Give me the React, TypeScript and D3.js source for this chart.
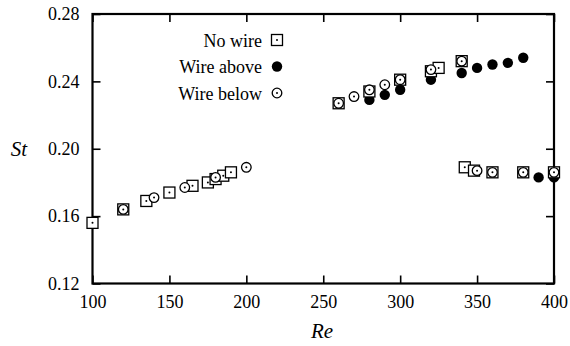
import React, { useEffect, useRef } from 'react'
import { select, scaleLinear, axisBottom, axisLeft, axisTop, axisRight } from 'd3'

const noWireRe = [100, 120, 135, 150, 165, 175, 180, 185, 190, 260, 280, 300, 320, 325, 340, 342, 348, 360, 380, 400]
const noWireSt = [0.156, 0.164, 0.169, 0.174, 0.178, 0.180, 0.182, 0.184, 0.186, 0.227, 0.234, 0.241, 0.246, 0.248, 0.252, 0.189, 0.187, 0.186, 0.186, 0.186]

const wireAboveRe = [280, 290, 300, 320, 340, 350, 360, 370, 380, 390, 400]
const wireAboveSt = [0.229, 0.232, 0.235, 0.241, 0.245, 0.248, 0.250, 0.251, 0.254, 0.183, 0.183]

const wireBelowRe = [120, 140, 160, 180, 200, 260, 270, 280, 290, 300, 320, 340, 350, 360, 380, 400]
const wireBelowSt = [0.164, 0.171, 0.177, 0.183, 0.189, 0.227, 0.231, 0.235, 0.238, 0.241, 0.247, 0.252, 0.187, 0.186, 0.186, 0.186]

const xTicks = [100, 150, 200, 250, 300, 350, 400]
const yTicks = [0.12, 0.16, 0.20, 0.24, 0.28]
const legendLabels = ['No wire', 'Wire above', 'Wire below']

const FONT = "'Liberation Serif', 'DejaVu Serif', 'Times New Roman', serif"

const App = () => {
    const svgRef = useRef(null)

    useEffect(() => {
        const svg = select(svgRef.current)
        svg.selectAll('*').remove()

        const x = scaleLinear().domain([100, 400]).range([92.5, 554])
        const y = scaleLinear().domain([0.12, 0.28]).range([283.5, 14])

        // axes, ticks pointing inward on all four sides
        const styleAxis = (g) => {
            g.attr('font-family', null)
            g.select('.domain').remove()
            g.selectAll('line').attr('stroke', '#000').attr('stroke-width', 1.6)
            g.selectAll('text').style('font-family', FONT).style('font-size', '18px').attr('fill', '#000')
        }
        svg.append('g')
            .attr('transform', `translate(0,${y(0.12)})`)
            .call(axisBottom(x).tickValues(xTicks).tickSizeInner(-8).tickSizeOuter(0).tickPadding(12).tickFormat(d => String(d)))
            .call(styleAxis)
        svg.append('g')
            .attr('transform', `translate(0,${y(0.28)})`)
            .call(axisTop(x).tickValues(xTicks).tickSizeInner(-8).tickSizeOuter(0).tickFormat(() => ''))
            .call(styleAxis)
        svg.append('g')
            .attr('transform', `translate(${x(100)},0)`)
            .call(axisLeft(y).tickValues(yTicks).tickSizeInner(-8).tickSizeOuter(0).tickPadding(13).tickFormat(d => d.toFixed(2)))
            .call(styleAxis)
        svg.append('g')
            .attr('transform', `translate(${x(400)},0)`)
            .call(axisRight(y).tickValues(yTicks).tickSizeInner(-8).tickSizeOuter(0).tickFormat(() => ''))
            .call(styleAxis)

        svg.append('rect')
            .attr('x', x(100)).attr('y', y(0.28))
            .attr('width', x(400) - x(100)).attr('height', y(0.12) - y(0.28))
            .attr('fill', 'none').attr('stroke', '#000').attr('stroke-width', 2.2)

        svg.append('text')
            .attr('x', 322).attr('y', 338)
            .attr('text-anchor', 'middle')
            .style('font-family', FONT).style('font-style', 'italic').style('font-size', '21px')
            .text('Re')
        svg.append('text')
            .attr('x', 19).attr('y', 156)
            .attr('text-anchor', 'middle')
            .style('font-family', FONT).style('font-style', 'italic').style('font-size', '21px')
            .text('St')

        const drawSquare = (g, cx, cy) => {
            g.append('rect')
                .attr('x', cx - 5.5).attr('y', cy - 5.5).attr('width', 11).attr('height', 11)
                .attr('fill', '#fff').attr('stroke', '#000').attr('stroke-width', 1.3)
            g.append('circle').attr('cx', cx).attr('cy', cy).attr('r', 1).attr('fill', '#000')
        }
        const drawFilled = (g, cx, cy) => {
            g.append('circle').attr('cx', cx).attr('cy', cy).attr('r', 5.2).attr('fill', '#000')
        }
        const drawOpen = (g, cx, cy) => {
            g.append('circle').attr('cx', cx).attr('cy', cy).attr('r', 4.8)
                .attr('fill', '#fff').attr('stroke', '#000').attr('stroke-width', 1.3)
            g.append('circle').attr('cx', cx).attr('cy', cy).attr('r', 1).attr('fill', '#000')
        }

        const pts = svg.append('g')
        wireAboveRe.forEach((re, i) => drawFilled(pts, x(re), y(wireAboveSt[i])))
        noWireRe.forEach((re, i) => drawSquare(pts, x(re), y(noWireSt[i])))
        wireBelowRe.forEach((re, i) => drawOpen(pts, x(re), y(wireBelowSt[i])))

        // legend
        const markers = [drawSquare, drawFilled, drawOpen]
        const legend = svg.append('g')
        legendLabels.forEach((label, i) => {
            const cy = 40 + i * 26.5
            legend.append('text')
                .attr('x', 262).attr('y', cy + 6.5)
                .attr('text-anchor', 'end')
                .style('font-family', FONT).style('font-size', '18px')
                .text(label)
            markers[i](legend, 277, cy)
        })
    }, [])

    return (
        <svg ref={svgRef} width={570} height={346}
            style={{ position: 'absolute', left: 0, top: 0, background: '#fff' }} />
    )
}

export default App
